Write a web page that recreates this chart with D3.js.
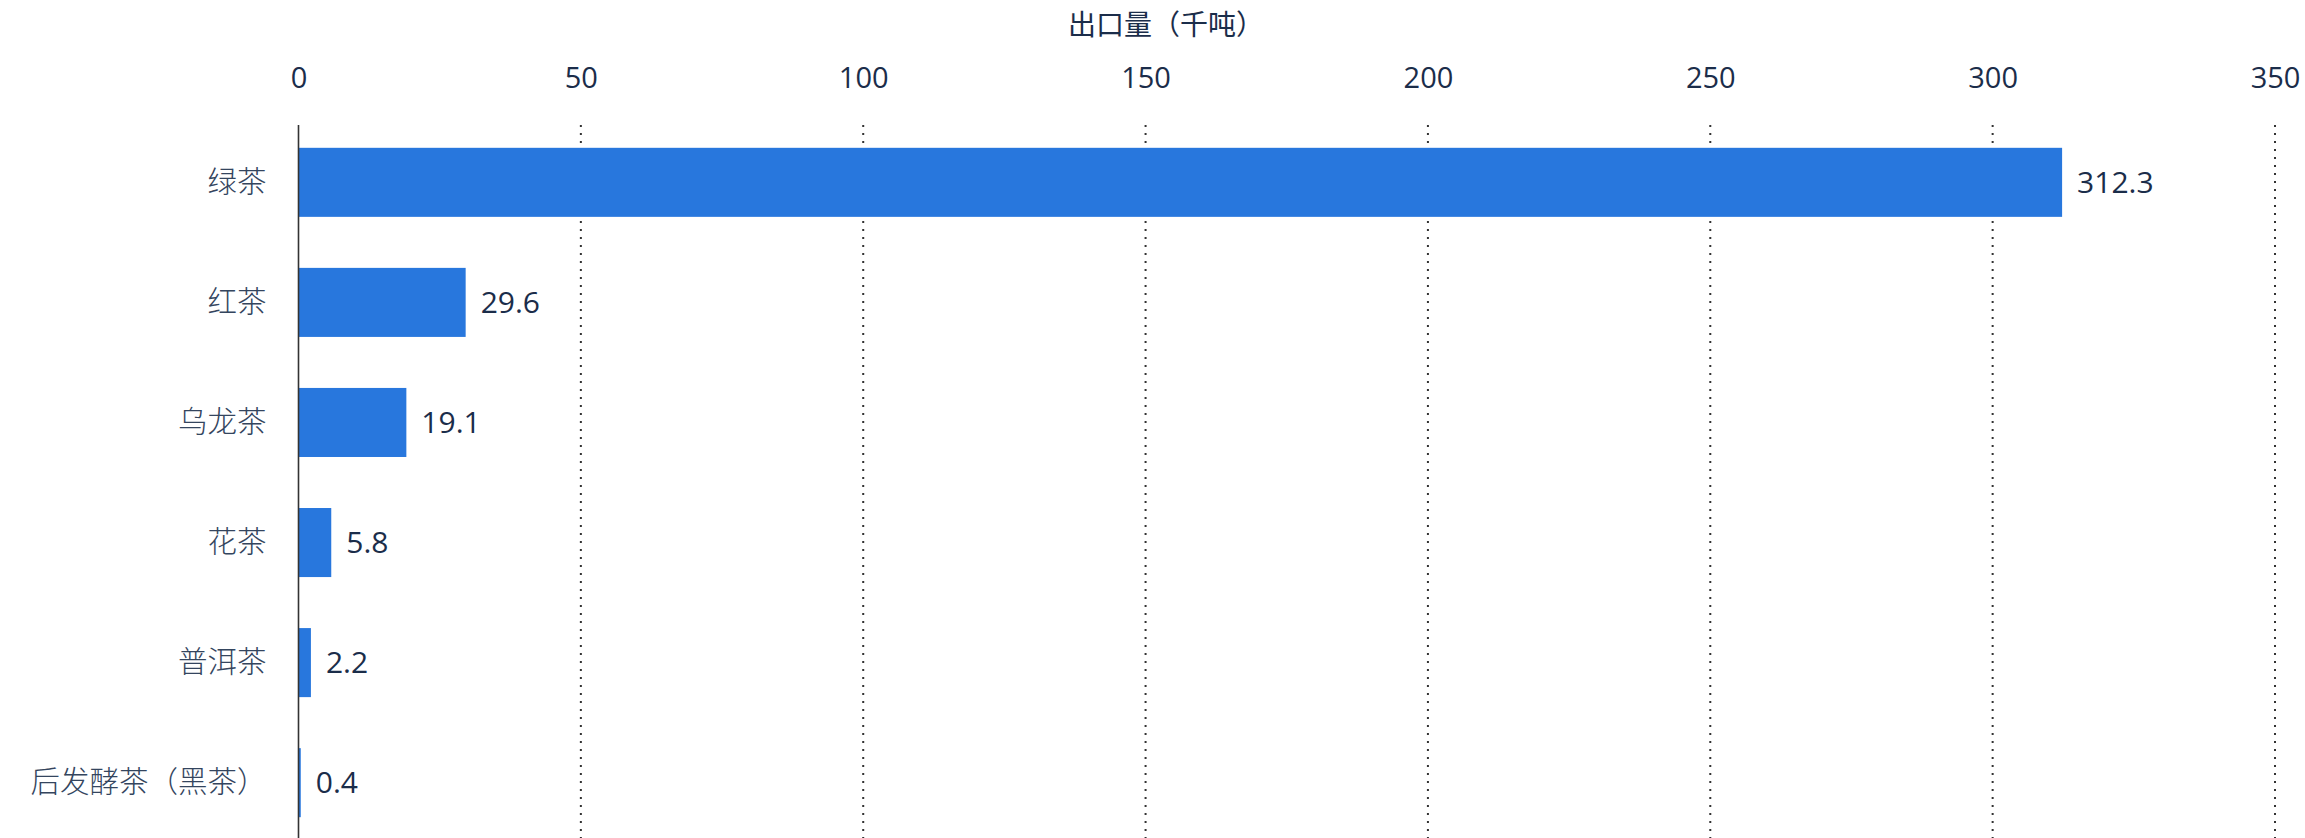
<!DOCTYPE html>
<html><head><meta charset="utf-8">
<script src="https://cdn.jsdelivr.net/npm/d3@7"></script>
<style>
html,body{margin:0;padding:0;background:#fff;}
svg{display:block;}
</style></head>
<body>
<svg id="chart" width="2305" height="838"></svg>
<script>
const categories = ["绿茶","红茶","乌龙茶","花茶","普洱茶","后发酵茶（黑茶）"];
const values = [312.3, 29.6, 19.1, 5.8, 2.2, 0.4];
const xTicks = [0,50,100,150,200,250,300,350];
const axisTitle = "出口量（千吨）";

const svg = d3.select("#chart");
const x = d3.scaleLinear().domain([0,350]).range([298.5, 2275]);
const y = d3.scaleBand().domain(categories).range([125, 840]).paddingInner(0.425).paddingOuter(0.19);

const textColor = "#1b2d4a";
const numFont = "'Open Sans','Noto Sans',sans-serif";
const cjkFont = "'Noto Sans CJK SC','Noto Sans',sans-serif";

// gridlines
svg.append("g").selectAll("line").data(xTicks.filter(d=>d>0)).join("line")
  .attr("x1",d=>x(d)).attr("x2",d=>x(d)).attr("y1",125).attr("y2",838)
  .attr("stroke","#333").attr("stroke-width",2).attr("stroke-dasharray","2,6");

// top axis labels
const ax = svg.append("g").attr("transform","translate(0,78)")
  .call(d3.axisTop(x).tickValues(xTicks).tickSize(0).tickPadding(0).tickFormat(d3.format("d")));
ax.select(".domain").remove();
ax.selectAll("text").attr("font-family",numFont).attr("font-size",29).attr("fill",textColor)
  .attr("dy","0.35em");

// title
svg.append("text").attr("x",1166).attr("y",27).attr("text-anchor","middle")
  .attr("dominant-baseline","middle")
  .attr("font-family",cjkFont).attr("font-size",28).attr("fill",textColor).text(axisTitle);

// bars
svg.append("g").selectAll("rect").data(categories).join("rect")
  .attr("x",x(0)).attr("y",d=>y(d)).attr("height",y.bandwidth())
  .attr("width",(d,i)=>Math.max(0,x(values[i])-x(0)))
  .attr("fill","#2877dd");

// value labels
svg.append("g").selectAll("text").data(categories).join("text")
  .attr("x",(d,i)=>x(values[i])+15).attr("y",d=>y(d)+y.bandwidth()/2)
  .attr("dy","0.35em").attr("font-family",numFont).attr("font-size",30).attr("fill",textColor)
  .text((d,i)=>values[i]);

// y axis
const ay = svg.append("g").attr("transform",`translate(${x(0)},0)`)
  .call(d3.axisLeft(y).tickSize(0).tickPadding(32));
ay.select(".domain").remove();
ay.selectAll("text").attr("font-family",cjkFont).attr("font-size",29.5).attr("font-weight",300).attr("fill","#34455e");
svg.append("line").attr("x1",x(0)).attr("x2",x(0)).attr("y1",125).attr("y2",838)
  .attr("stroke","#333").attr("stroke-width",1.6);
</script>
</body></html>
